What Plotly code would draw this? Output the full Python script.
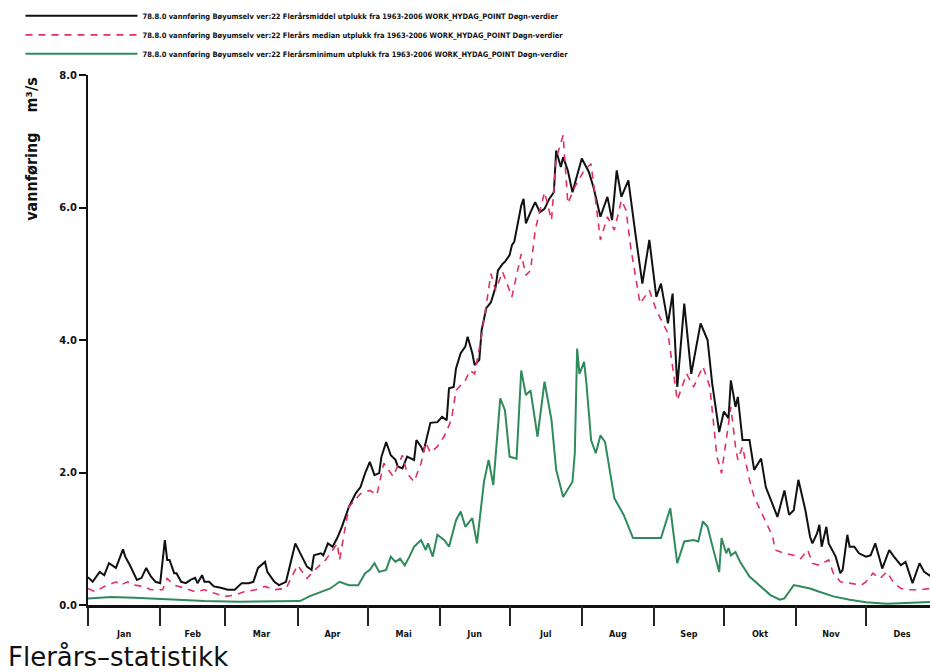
import plotly.graph_objects as go

# ---------------- data ----------------
months = ["Jan", "Feb", "Mar", "Apr", "Mai", "Jun", "Jul", "Aug", "Sep", "Okt", "Nov", "Des"]
month_starts = [0, 31, 59, 90, 120, 151, 181, 212, 243, 273, 304, 334, 365]

mean_days = [0, 2, 5, 7, 9, 12, 13, 15, 16, 18, 21, 23, 25, 27, 29, 31, 33, 34, 35, 37, 38, 40, 42, 44, 46, 47,
             49, 50, 52, 54, 57, 60, 63, 66, 69, 71, 73, 76, 77, 80, 82, 85, 89, 91, 94, 96, 97, 100, 101, 103,
             105, 107, 109, 112, 115, 117, 119, 121, 123, 125, 126, 128, 130, 132, 133, 135, 137, 140, 141, 143,
             144, 147, 150, 152, 154, 155, 157, 158, 160, 162, 163, 165, 166, 168, 169, 171, 173, 175, 176, 178,
             179, 181, 182, 183, 184, 186, 187, 188, 190, 192, 194, 196, 198, 200, 201, 203, 204, 206, 208, 212,
             215, 217, 220, 223, 225, 227, 229, 232, 235, 238, 241, 244, 246, 249, 251, 253, 256, 259, 263, 266,
             268, 271, 273, 275, 276, 278, 279, 281, 284, 286, 289, 291, 294, 296, 299, 301, 303, 305, 308, 310,
             311, 313, 314, 315, 317, 318, 321, 323, 324, 326, 327, 329, 331, 334, 336, 338, 340, 341, 344, 346,
             349, 351, 354, 355, 357, 359, 362, 364]
mean_vals = [0.42, 0.35, 0.50, 0.45, 0.63, 0.56, 0.65, 0.84, 0.73, 0.60, 0.38, 0.41, 0.56, 0.43, 0.35, 0.33, 0.98,
             0.68, 0.68, 0.48, 0.48, 0.35, 0.33, 0.38, 0.41, 0.33, 0.45, 0.35, 0.35, 0.28, 0.26, 0.23, 0.23, 0.33,
             0.33, 0.35, 0.56, 0.65, 0.50, 0.35, 0.30, 0.35, 0.93, 0.78, 0.58, 0.53, 0.75, 0.78, 0.75, 0.93, 0.88,
             1.01, 1.18, 1.48, 1.69, 1.78, 1.99, 2.16, 1.96, 1.99, 2.24, 2.46, 2.26, 2.19, 2.09, 2.06, 2.24, 2.19,
             2.49, 2.39, 2.31, 2.75, 2.76, 2.84, 2.79, 3.27, 3.29, 3.57, 3.80, 3.90, 4.05, 3.80, 3.62, 3.70, 4.15,
             4.48, 4.57, 4.80, 5.05, 5.15, 5.18, 5.28, 5.43, 5.48, 5.66, 6.03, 6.13, 5.76, 5.93, 6.08, 5.93, 5.98,
             6.13, 6.23, 6.86, 6.61, 6.76, 6.56, 6.23, 6.74, 6.54, 6.31, 5.86, 6.16, 5.81, 6.56, 6.16, 6.41, 5.61,
             4.85, 5.51, 4.65, 4.85, 4.25, 4.70, 3.29, 4.55, 3.49, 4.25, 4.00, 3.34, 2.61, 2.92, 2.82, 3.39, 2.99,
             3.14, 2.49, 2.49, 2.04, 2.21, 1.78, 1.51, 1.33, 1.73, 1.36, 1.43, 1.89, 1.43, 1.03, 0.93, 1.08, 1.21,
             0.88, 1.18, 0.93, 0.73, 0.48, 0.53, 1.06, 0.88, 0.88, 0.78, 0.73, 0.75, 0.93, 0.68, 0.55, 0.83, 0.73,
             0.60, 0.65, 0.33, 0.43, 0.63, 0.50, 0.43, 0.40]

median_days = [0, 3, 7, 12, 14, 17, 20, 24, 27, 32, 34, 37, 42, 46, 50, 54, 59, 63, 67, 72, 76, 80, 85, 90, 94, 98,
               102, 107, 108, 112, 117, 121, 124, 127, 131, 135, 137, 140, 143, 145, 147, 150, 153, 156, 158, 162,
               164, 166, 169, 173, 175, 178, 182, 186, 188, 190, 192, 194, 196, 199, 201, 204, 206, 209, 213, 216,
               220, 223, 226, 229, 231, 233, 237, 241, 244, 249, 253, 257, 260, 264, 267, 270, 272, 274, 276, 278,
               279, 281, 284, 286, 288, 291, 294, 295, 299, 303, 306, 309, 311, 314, 318, 320, 323, 327, 332, 334,
               337, 340, 343, 346, 349, 353, 357, 362, 364]
median_vals = [0.25, 0.20, 0.28, 0.35, 0.30, 0.35, 0.30, 0.28, 0.23, 0.23, 0.40, 0.30, 0.25, 0.20, 0.23, 0.18, 0.13,
               0.15, 0.20, 0.23, 0.28, 0.23, 0.25, 0.60, 0.40, 0.55, 0.68, 0.93, 0.68, 1.48, 1.68, 1.73, 1.66, 2.14,
               1.94, 2.26, 1.99, 1.86, 2.14, 2.45, 2.30, 2.39, 2.55, 2.79, 3.24, 3.39, 3.54, 3.49, 4.07, 5.00, 4.75,
               5.03, 4.65, 5.30, 4.98, 5.05, 5.66, 5.96, 6.23, 5.81, 6.74, 7.09, 6.06, 6.31, 6.56, 6.66, 5.51, 5.86,
               5.66, 6.11, 5.96, 5.40, 4.55, 4.75, 4.45, 4.10, 3.09, 3.49, 3.29, 3.60, 3.29, 2.24, 1.99, 2.49, 2.99,
               2.39, 2.19, 2.39, 1.89, 1.63, 1.48, 1.23, 1.03, 0.83, 0.78, 0.75, 0.70, 0.83, 0.63, 0.60, 0.68, 0.48,
               0.35, 0.33, 0.30, 0.35, 0.48, 0.40, 0.50, 0.33, 0.25, 0.23, 0.23, 0.25, 0.25]

min_days = [0, 10, 20, 35, 50, 65, 80, 88, 91, 95, 100, 104, 108, 112, 116, 119, 121, 123, 125, 128, 130, 132, 134,
            136, 138, 140, 143, 145, 146, 148, 150, 153, 155, 158, 160, 162, 165, 167, 170, 172, 174, 177, 179, 181,
            184, 186, 188, 190, 193, 196, 199, 201, 204, 206, 208, 209, 210, 211, 213, 214, 216, 218, 220, 222, 226,
            230, 234, 246, 250, 253, 256, 260, 262, 264, 266, 268, 271, 272, 274, 275, 276, 278, 280, 284, 289, 293,
            297, 299, 301, 303, 306, 310, 314, 320, 327, 334, 343, 352, 362, 364]
min_vals = [0.10, 0.12, 0.11, 0.08, 0.06, 0.05, 0.05, 0.05, 0.06, 0.13, 0.20, 0.25, 0.35, 0.30, 0.30, 0.48, 0.53,
            0.63, 0.50, 0.53, 0.73, 0.65, 0.70, 0.60, 0.73, 0.88, 0.98, 0.83, 0.93, 0.73, 1.06, 0.98, 0.88, 1.28,
            1.41, 1.18, 1.31, 0.93, 1.86, 2.19, 1.81, 3.12, 2.94, 2.24, 2.21, 3.54, 3.17, 3.24, 2.54, 3.37, 2.79,
            2.04, 1.63, 1.75, 1.86, 2.29, 3.87, 3.49, 3.67, 3.34, 2.49, 2.29, 2.56, 2.46, 1.61, 1.36, 1.01, 1.01,
            1.46, 0.63, 0.96, 0.98, 0.96, 1.26, 1.18, 0.90, 0.50, 1.01, 0.78, 0.86, 0.75, 0.80, 0.65, 0.43, 0.28,
            0.15, 0.08, 0.10, 0.20, 0.30, 0.28, 0.25, 0.20, 0.13, 0.08, 0.04, 0.02, 0.03, 0.05, 0.05]

series_names = [
    "78.8.0 vannføring Bøyumselv ver:22 Flerårsmiddel utplukk fra 1963-2006 WORK_HYDAG_POINT Døgn-verdier",
    "78.8.0 vannføring Bøyumselv ver:22 Flerårs median utplukk fra 1963-2006 WORK_HYDAG_POINT Døgn-verdier",
    "78.8.0 vannføring Bøyumselv ver:22 Flerårsminimum utplukk fra 1963-2006 WORK_HYDAG_POINT Døgn-verdier",
]
y_ticks = [0, 2, 4, 6, 8]

# ---------------- figure ----------------
NARROW = "Liberation Sans Narrow, DejaVu Sans Condensed, Arial Narrow, sans-serif"
month_centers = [(month_starts[i] + month_starts[i + 1]) / 2 for i in range(12)]

fig = go.Figure()
fig.add_trace(go.Scatter(x=mean_days, y=mean_vals, mode="lines", name=series_names[0],
                         line=dict(color="#111111", width=2)))
fig.add_trace(go.Scatter(x=median_days, y=median_vals, mode="lines", name=series_names[1],
                         line=dict(color="#e0325e", width=1.6, dash="7px,6px")))
fig.add_trace(go.Scatter(x=min_days, y=min_vals, mode="lines", name=series_names[2],
                         line=dict(color="#2f8a5c", width=2)))
# invisible trace carrying the month-boundary tick axis
fig.add_trace(go.Scatter(x=[month_starts[0], month_starts[-1]], y=[0, 0], xaxis="x2", mode="lines",
                         line=dict(width=0), showlegend=False, hoverinfo="skip"))

fig.update_layout(
    width=930, height=672,
    margin=dict(l=88, r=0, t=75, b=67, autoexpand=False),
    paper_bgcolor="white", plot_bgcolor="white",
    showlegend=True,
    legend=dict(xref="container", yref="container", x=0.022, y=0.998, xanchor="left", yanchor="top",
                font=dict(family=NARROW, size=7.5, color="#111111", weight="bold"),
                itemwidth=112, tracegroupgap=0, bgcolor="rgba(0,0,0,0)"),
    xaxis=dict(range=[0, 361.5], tickvals=month_centers, ticktext=months, ticks="",
               showline=True, linecolor="#111111", linewidth=3, showgrid=False, zeroline=False,
               ticklabelstandoff=18, automargin=False,
               tickfont=dict(family=NARROW, size=9, color="#111111", weight="bold")),
    xaxis2=dict(overlaying="x", matches="x", anchor="y", side="bottom", tickvals=month_starts,
                ticks="outside", ticklen=20, tickwidth=1.5, tickcolor="#222222", automargin=False,
                showticklabels=False, showline=False, showgrid=False, zeroline=False),
    yaxis=dict(range=[0, 8], tickvals=y_ticks, tickformat=".1f", ticks="outside", ticklen=7, tickwidth=1.5,
               tickcolor="#111111", showline=True, linecolor="#111111", linewidth=2, showgrid=False,
               zeroline=False, automargin=False,
               tickfont=dict(family="DejaVu Sans", size=10, color="#111111", weight="bold")),
    annotations=[
        dict(text="vannføring    m³/s", xref="paper", yref="paper", x=-0.067, y=0.86, textangle=-90,
             showarrow=False, xanchor="center", yanchor="middle",
             font=dict(family=NARROW, size=16, color="#111111", weight="bold")),
        dict(text="Flerårs–statistikk", xref="paper", yref="paper", x=-0.097, y=-0.098, xanchor="left",
             yanchor="middle", showarrow=False,
             font=dict(family="DejaVu Sans", size=26, color="#111111")),
    ],
)

fig.write_html("out.html", config={"displayModeBar": False},
               post_script="document.body.style.margin='0';document.body.style.overflow='hidden';")
